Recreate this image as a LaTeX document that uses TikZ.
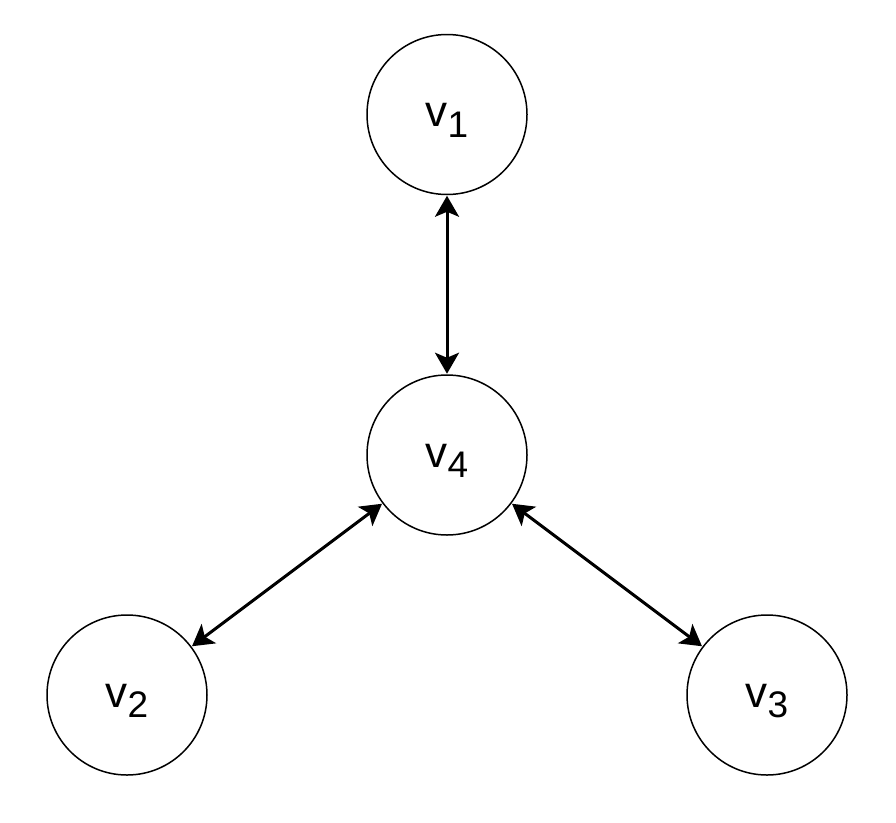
\documentclass[tikz,border=0pt]{standalone}
\usepackage{fontspec}
\setmainfont{Liberation Sans}
\usetikzlibrary{arrows.meta}
\newcommand{\vlab}[1]{\fontsize{44}{48}\selectfont v\raisebox{-10.5pt}{\fontsize{37}{40}\selectfont #1}\hspace{9pt}}
\begin{document}
\begin{tikzpicture}[x=1pt,y=-1pt,
  vert/.style={circle,draw=black,line width=1.5pt,minimum size=160pt,inner sep=0pt,
    text height=34.5pt,text depth=10.5pt},
  link/.style={line width=3pt,{Stealth[length=21pt,width=24pt,inset=5pt]}-{Stealth[length=21pt,width=24pt,inset=5pt]},shorten <=0.5pt,shorten >=0.5pt}]
\useasboundingbox (0,0) rectangle (896,822);
\node[vert] (v1) at (447,114.5) {\vlab{1}};
\node[vert] (v4) at (447,455) {\vlab{4}};
\node[vert] (v2) at (127,695) {\vlab{2}};
\node[vert] (v3) at (767,695) {\vlab{3}};
\draw[link] (v1) -- (v4);
\draw[link] (v4) -- (v2);
\draw[link] (v4) -- (v3);
\end{tikzpicture}
\end{document}
